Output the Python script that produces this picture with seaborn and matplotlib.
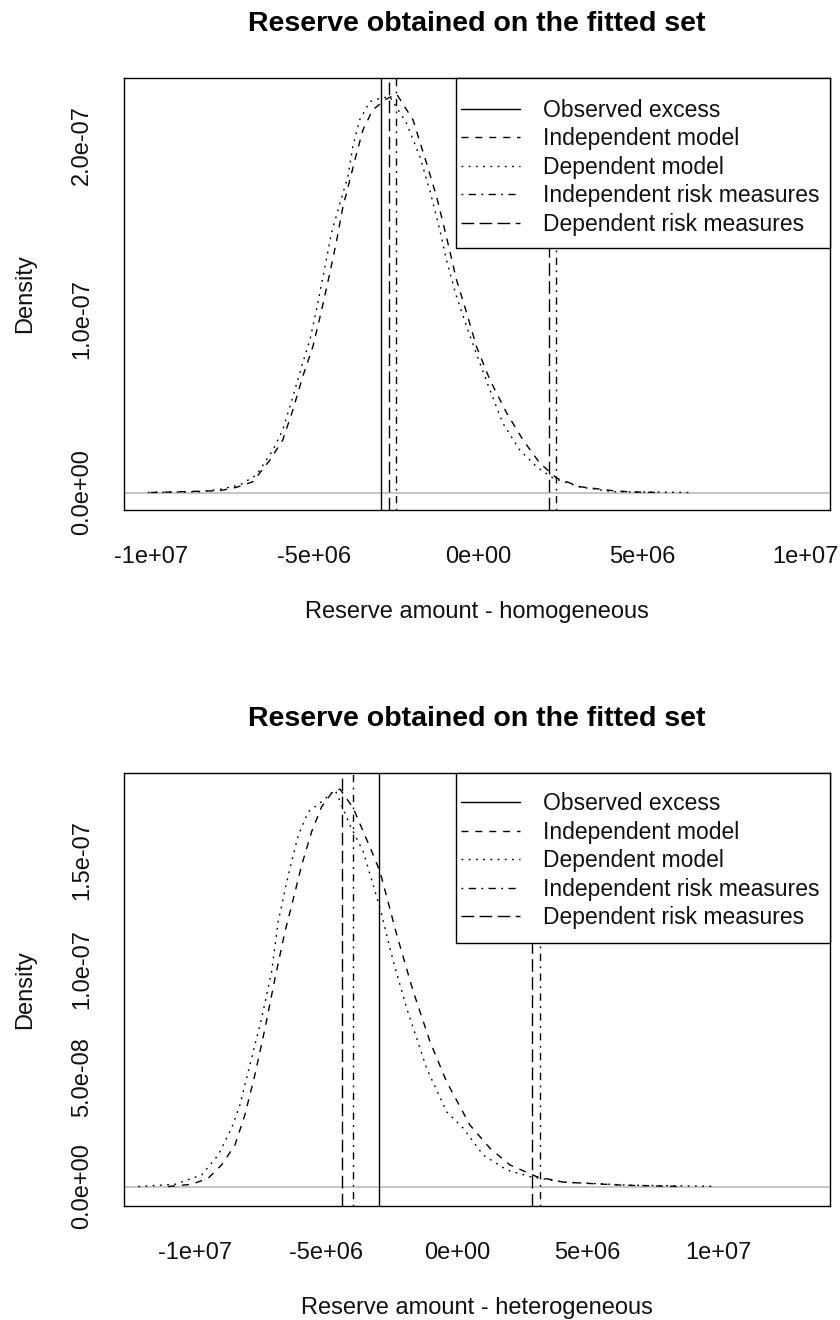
import matplotlib
matplotlib.use("Agg")
import matplotlib.pyplot as plt
import pandas as pd
import seaborn as sns
from matplotlib.lines import Line2D
from matplotlib.patches import Rectangle
from matplotlib.ticker import FixedLocator, FixedFormatter

# ---------------------------------------------------------------------------
# Kernel density estimates of the simulated reserve (x = reserve amount)
# ---------------------------------------------------------------------------
# homogeneous portfolio
hom_indep_x = [-10.0e6, -7.89e6, -7.38e6, -6.88e6, -6.36e6, -5.97e6, -5.66e6, -5.36e6,
               -5.05e6, -4.78e6, -4.53e6, -4.32e6, -4.13e6, -3.92e6, -3.71e6, -3.52e6,
               -3.22e6, -2.80e6, -2.49e6, -1.99e6, -1.58e6, -1.27e6, -0.97e6, -0.66e6,
               -0.35e6, -0.05e6, 0.36e6, 0.87e6, 1.37e6, 1.88e6, 2.39e6, 3.11e6,
               4.11e6, 4.73e6, 5.55e6]
hom_indep_y = [0.0, 0.0104e-7, 0.030e-7, 0.062e-7, 0.187e-7, 0.302e-7, 0.475e-7, 0.667e-7,
               0.839e-7, 1.051e-7, 1.264e-7, 1.454e-7, 1.645e-7, 1.799e-7, 1.955e-7, 2.087e-7,
               2.203e-7, 2.266e-7, 2.294e-7, 2.145e-7, 1.898e-7, 1.703e-7, 1.473e-7, 1.223e-7,
               1.033e-7, 0.839e-7, 0.648e-7, 0.458e-7, 0.302e-7, 0.170e-7, 0.0835e-7, 0.0334e-7,
               0.0104e-7, 0.003e-7, 0.0]

hom_dep_x = [-10.09e6, -8.50e6, -7.89e6, -7.28e6, -6.77e6, -6.27e6, -5.97e6, -5.66e6,
             -5.36e6, -5.14e6, -4.94e6, -4.74e6, -4.48e6, -4.22e6, -3.98e6, -3.83e6,
             -3.62e6, -3.31e6, -3.00e6, -2.70e6, -2.19e6, -1.78e6, -1.48e6, -1.17e6,
             -0.97e6, -0.66e6, -0.35e6, 0.05e6, 0.36e6, 0.75e6, 1.27e6, 1.78e6,
             2.28e6, 3.10e6, 4.11e6, 6.56e6]
hom_dep_y = [0.0, 0.0046e-7, 0.0184e-7, 0.0432e-7, 0.1007e-7, 0.2447e-7, 0.3598e-7, 0.5515e-7,
             0.7455e-7, 0.878e-7, 1.0507e-7, 1.2424e-7, 1.494e-7, 1.6667e-7, 1.818e-7, 1.991e-7,
             2.145e-7, 2.250e-7, 2.269e-7, 2.279e-7, 2.127e-7, 1.933e-7, 1.742e-7, 1.511e-7,
             1.339e-7, 1.127e-7, 0.955e-7, 0.7455e-7, 0.590e-7, 0.400e-7, 0.2447e-7, 0.1485e-7,
             0.0835e-7, 0.0317e-7, 0.0046e-7, 0.0]

# heterogeneous portfolio
het_indep_x = [-11.02e6, -10.12e6, -9.49e6, -8.98e6, -8.47e6, -8.09e6, -7.71e6, -7.32e6,
               -6.94e6, -6.56e6, -6.30e6, -5.92e6, -5.54e6, -5.16e6, -4.78e6, -4.46e6,
               -3.95e6, -3.19e6, -2.93e6, -2.29e6, -1.66e6, -1.02e6, -0.39e6, 0.50e6,
               1.27e6, 2.03e6, 3.05e6, 4.07e6, 6.35e6, 8.5e6]
het_indep_y = [0.0, 0.010e-7, 0.038e-7, 0.099e-7, 0.190e-7, 0.328e-7, 0.511e-7, 0.726e-7,
               0.955e-7, 1.169e-7, 1.291e-7, 1.475e-7, 1.628e-7, 1.742e-7, 1.804e-7, 1.823e-7,
               1.735e-7, 1.521e-7, 1.444e-7, 1.154e-7, 0.894e-7, 0.664e-7, 0.481e-7, 0.282e-7,
               0.175e-7, 0.099e-7, 0.045e-7, 0.020e-7, 0.006e-7, 0.0]

het_dep_x = [-12.16e6, -10.76e6, -9.74e6, -9.11e6, -8.60e6, -8.28e6, -7.90e6, -7.45e6,
             -7.07e6, -6.82e6, -6.43e6, -6.05e6, -5.67e6, -5.16e6, -4.65e6, -4.45e6,
             -4.08e6, -3.57e6, -2.93e6, -2.42e6, -1.91e6, -1.15e6, -0.39e6, 0.25e6,
             1.01e6, 1.91e6, 2.80e6, 4.07e6, 6.61e6, 9.79e6]
het_dep_y = [0.0, 0.010e-7, 0.053e-7, 0.144e-7, 0.267e-7, 0.374e-7, 0.557e-7, 0.772e-7,
             0.985e-7, 1.215e-7, 1.429e-7, 1.612e-7, 1.719e-7, 1.765e-7, 1.819e-7, 1.765e-7,
             1.658e-7, 1.536e-7, 1.276e-7, 1.031e-7, 0.817e-7, 0.542e-7, 0.343e-7, 0.267e-7,
             0.144e-7, 0.076e-7, 0.045e-7, 0.020e-7, 0.006e-7, 0.001e-7]

# observed excess and risk measures (expected reserve, upper quantile)
observed_excess = -2.96e6
hom_indep_risk = [-2.52e6, 2.37e6]
hom_dep_risk = [-2.72e6, 2.16e6]
het_indep_risk = [-3.97e6, 3.18e6]
het_dep_risk = [-4.37e6, 2.86e6]

legend_labels = ["Observed excess", "Independent model", "Dependent model",
                 "Independent risk measures", "Dependent risk measures"]

x_ticks = [-1e7, -5e6, 0, 5e6, 1e7]
x_tick_labels = ["-1e+07", "-5e+06", "0e+00", "5e+06", "1e+07"]
hom_y_ticks = [0, 0.5e-7, 1.0e-7, 1.5e-7, 2.0e-7]
hom_y_tick_labels = ["0.0e+00", "", "1.0e-07", "", "2.0e-07"]
het_y_ticks = [0, 0.5e-7, 1.0e-7, 1.5e-7]
het_y_tick_labels = ["0.0e+00", "5.0e-08", "1.0e-07", "1.5e-07"]

title = "Reserve obtained on the fitted set"

# ---------------------------------------------------------------------------
sns.set_theme(style="white")
plt.rcParams["font.family"] = ["Liberation Sans", "DejaVu Sans"]
plt.rcParams["lines.scale_dashes"] = False

LS_SOLID = "-"
LS_DASHED = (0, (5.0, 5.0))
LS_DOTTED = (0, (1.3, 3.9))
LS_DOTDASH = (0, (1.3, 3.9, 5.2, 3.9))
LS_LONGDASH = (0, (9.1, 3.9))
LW = 1.0
FS = 17
TXT = "#111111"

fig = plt.figure(figsize=(8.4, 13.2), dpi=100)
fig.patch.set_facecolor("white")


def panel(rect, indep_x, indep_y, dep_x, dep_y, indep_risk, dep_risk,
          xlim, ylim, yticks, yticklabels, xlabel, box_bottom, legend_top):
    ax = fig.add_axes(rect)
    ax.axhline(0, color="#bebebe", lw=1.2, zorder=1)

    indep = pd.DataFrame({"x": indep_x, "y": indep_y})
    dep = pd.DataFrame({"x": dep_x, "y": dep_y})
    sns.lineplot(data=indep, x="x", y="y", ax=ax, color="black", lw=LW,
                 linestyle=LS_DASHED, sort=False, estimator=None)
    sns.lineplot(data=dep, x="x", y="y", ax=ax, color="black", lw=LW,
                 linestyle=LS_DOTTED, sort=False, estimator=None)

    ax.axvline(observed_excess, color="black", lw=LW, linestyle=LS_SOLID)
    for v in indep_risk:
        ax.axvline(v, color="black", lw=LW, linestyle=LS_DOTDASH)
    for v in dep_risk:
        ax.axvline(v, color="black", lw=LW, linestyle=LS_LONGDASH)

    ax.set_xlim(*xlim)
    ax.set_ylim(*ylim)
    ax.xaxis.set_major_locator(FixedLocator(x_ticks))
    ax.xaxis.set_major_formatter(FixedFormatter(x_tick_labels))
    ax.yaxis.set_major_locator(FixedLocator(yticks))
    ax.yaxis.set_major_formatter(FixedFormatter(yticklabels))
    ax.tick_params(axis="both", which="major", direction="out", length=10,
                   width=1.0, color="black", labelsize=FS, labelcolor=TXT)
    ax.tick_params(axis="x", pad=16)
    ax.tick_params(axis="y", pad=12)
    for lbl in ax.get_yticklabels():
        lbl.set_rotation(90)
        lbl.set_va("center")
    for s in ax.spines.values():
        s.set_color("black")
        s.set_linewidth(1.0)

    ax.set_xlabel(xlabel, fontsize=FS, labelpad=24, color=TXT)
    ax.set_ylabel("Density", fontsize=FS, labelpad=25, color=TXT)
    ax.set_title(title, fontsize=20.5, fontweight="bold", pad=33.5, color="black")

    # legend box (drawn as its own rectangle so the padding can be set freely)
    ax.add_patch(Rectangle((0.4707, box_bottom), 1.0 - 0.4707, 1.0 - box_bottom,
                           transform=ax.transAxes, facecolor="white",
                           edgecolor="black", lw=1.0, zorder=5, clip_on=False))
    handles = [
        Line2D([], [], color="black", lw=LW, linestyle=LS_SOLID),
        Line2D([], [], color="black", lw=LW, linestyle=LS_DASHED),
        Line2D([], [], color="black", lw=LW, linestyle=LS_DOTTED),
        Line2D([], [], color="black", lw=LW, linestyle=LS_DOTDASH),
        Line2D([], [], color="black", lw=LW, linestyle=LS_LONGDASH),
    ]
    leg = ax.legend(handles, legend_labels, loc="upper left",
                    bbox_to_anchor=(0.4778, legend_top), fontsize=16.5,
                    frameon=False, borderaxespad=0.0, borderpad=0.0,
                    handlelength=2.58, handletextpad=1.0, labelspacing=0.24)
    leg.set_zorder(6)
    for t in leg.get_texts():
        t.set_color(TXT)
    return ax


panel([0.14714, 0.613636, 0.84071, 0.327273],
      hom_indep_x, hom_indep_y, hom_dep_x, hom_dep_y, hom_indep_risk, hom_dep_risk,
      (-10.83e6, 10.74e6), (-0.1007e-7, 2.3863e-7),
      hom_y_ticks, hom_y_tick_labels, "Reserve amount - homogeneous",
      0.6065, 0.9514)

panel([0.14714, 0.086364, 0.84071, 0.32803],
      het_indep_x, het_indep_y, het_dep_x, het_dep_y, het_indep_risk, het_dep_risk,
      (-12.72e6, 14.24e6), (-0.0894e-7, 1.8968e-7),
      het_y_ticks, het_y_tick_labels, "Reserve amount - heterogeneous",
      0.6074, 0.956)

fig.savefig("out.png", dpi=100, facecolor="white")
